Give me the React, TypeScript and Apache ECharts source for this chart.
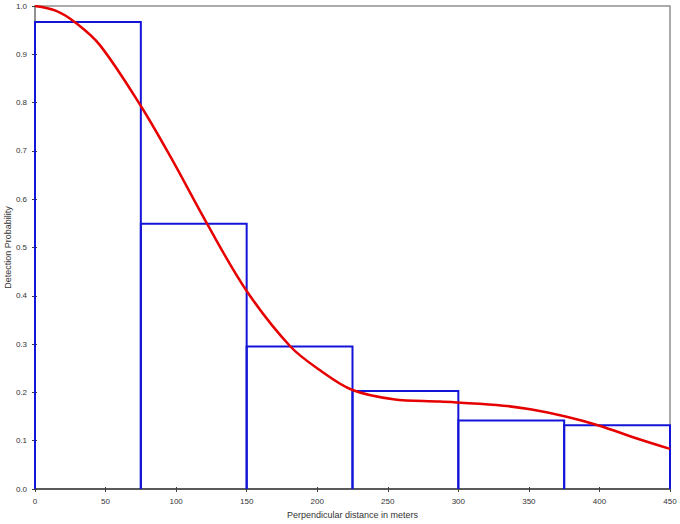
import React, { useEffect, useRef } from "react";
import * as echarts from "echarts";

const binStarts = [0, 75, 150, 225, 300, 375];
const binEnds = [75, 150, 225, 300, 375, 450];
const binValues = [0.967, 0.549, 0.295, 0.203, 0.142, 0.132];

const curveX = [0, 15, 29, 46, 75, 96, 122, 150, 181, 202, 225, 254, 287, 327, 351, 376, 400, 426, 450];
const curveY = [1.0, 0.99, 0.965, 0.919, 0.793, 0.688, 0.549, 0.41, 0.295, 0.246, 0.205, 0.186, 0.181, 0.174, 0.165, 0.15, 0.131, 0.105, 0.083];

const xTitle = "Perpendicular distance in meters";
const yTitle = "Detection Probability";

export default function App() {
  const ref = useRef<HTMLDivElement>(null);
  useEffect(() => {
    if (!ref.current) return;
    const chart = echarts.init(ref.current, null, { renderer: "svg" });
    const font = "Liberation Sans, Arial, sans-serif";
    const label = { fontFamily: font, fontSize: 8, color: "#333" };
    const binData = binStarts.map((s, i) => [s, binEnds[i], binValues[i]]);
    const curveData = curveX.map((x, i) => [x, curveY[i]]);
    chart.setOption({
      animation: false,
      backgroundColor: "#fff",
      grid: {
        left: 35,
        right: 10,
        top: 6,
        bottom: 35,
        containLabel: false,
        outerBoundsMode: "none",
        show: true,
        borderColor: "#909090",
        borderWidth: 1.5,
      },
      xAxis: [
        {
          type: "value",
          min: 0,
          max: 450,
          interval: 50,
          name: xTitle,
          nameLocation: "middle",
          nameGap: 21,
          nameMoveOverlap: false,
          nameTextStyle: { fontFamily: font, fontSize: 9, color: "#333" },
          axisLine: { show: true, lineStyle: { color: "#404040", width: 1.5 } },
          axisTick: { show: true, inside: false, length: 3, lineStyle: { color: "#404040" } },
          axisLabel: { ...label, margin: 8 },
          splitLine: { show: false },
        },
        {
          type: "value",
          min: 0,
          max: 450,
          interval: 50,
          position: "bottom",
          axisLine: { show: false },
          axisTick: { show: true, inside: true, length: 2, lineStyle: { color: "#404040" } },
          axisLabel: { show: false },
          splitLine: { show: false },
        },
      ],
      yAxis: [
        {
          type: "value",
          min: 0,
          max: 1,
          interval: 0.1,
          name: yTitle,
          nameLocation: "middle",
          nameGap: 23,
          nameMoveOverlap: false,
          nameTextStyle: { fontFamily: font, fontSize: 9, color: "#333" },
          axisLine: { show: true, lineStyle: { color: "#888", width: 1.5 } },
          axisTick: { show: true, inside: false, length: 3, lineStyle: { color: "#404040" } },
          axisLabel: { ...label, margin: 8, formatter: (v: number) => v.toFixed(1) },
          splitLine: { show: false },
        },
        {
          type: "value",
          min: 0,
          max: 1,
          interval: 0.1,
          position: "left",
          axisLine: { show: false },
          axisTick: { show: true, inside: true, length: 2, lineStyle: { color: "#404040" } },
          axisLabel: { show: false },
          splitLine: { show: false },
        },
      ],
      series: [
        {
          type: "custom",
          xAxisIndex: 0,
          yAxisIndex: 0,
          data: binData,
          z: 2,
          renderItem: (params: any, api: any) => {
            const p0 = api.coord([api.value(0), api.value(2)]);
            const p1 = api.coord([api.value(1), 0]);
            return {
              type: "polyline",
              shape: {
                points: [
                  [p0[0], p1[1]],
                  [p0[0], p0[1]],
                  [p1[0], p0[1]],
                  [p1[0], p1[1]],
                ],
              },
              style: { stroke: "#1414d8", lineWidth: 2, fill: "none" },
            };
          },
        },
        {
          type: "line",
          xAxisIndex: 0,
          yAxisIndex: 0,
          data: curveData,
          smooth: 0.35,
          showSymbol: false,
          z: 3,
          lineStyle: { color: "#e60000", width: 2.5 },
        },
      ],
    });
    return () => chart.dispose();
  }, []);
  return (
    <div
      ref={ref}
      style={{ position: "fixed", left: 0, top: 0, width: 680, height: 524 }}
    />
  );
}
